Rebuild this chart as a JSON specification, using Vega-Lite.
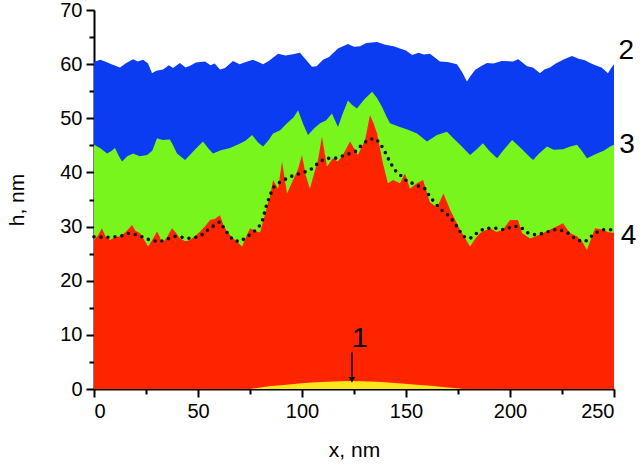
{
  "$schema": "https://vega.github.io/schema/vega-lite/v6.json",
  "width": 520,
  "height": 379,
  "autosize": "none",
  "padding": {"left": 94, "top": 10, "right": 26, "bottom": 77},
  "background": "white",
  "config": {
    "view": {"stroke": null},
    "font": "Liberation Sans",
    "axis": {"grid": false, "domainColor": "black", "domainWidth": 2, "tickColor": "black", "tickWidth": 2, "labelColor": "black", "titleColor": "black", "labelFont": "Liberation Sans", "titleFont": "Liberation Sans", "labelFontSize": 20, "titleFontSize": 21, "titleFontWeight": "normal"}
  },
  "datasets": {
    "blue": [
      {"x": 0, "h": 60.4}, {"x": 0.5, "h": 60.5}, {"x": 3, "h": 60.8}, {"x": 5.3, "h": 60.5}, {"x": 9, "h": 59.9}, {"x": 12.5, "h": 59.4}, {"x": 15.5, "h": 60.2}, {"x": 18.8, "h": 60.9}, {"x": 21, "h": 60.5}, {"x": 23.6, "h": 60.8}, {"x": 26, "h": 60.1}, {"x": 27.9, "h": 58.3}, {"x": 30, "h": 58.8}, {"x": 33.2, "h": 59.0}, {"x": 36, "h": 59.8}, {"x": 38, "h": 59.3}, {"x": 41.3, "h": 60.2}, {"x": 44, "h": 59.4}, {"x": 46.2, "h": 59.7}, {"x": 49, "h": 60.3}, {"x": 53.4, "h": 60.5}, {"x": 56, "h": 59.8}, {"x": 58, "h": 60.1}, {"x": 60.6, "h": 59.0}, {"x": 63, "h": 59.3}, {"x": 66.8, "h": 60.6}, {"x": 70, "h": 60.0}, {"x": 73, "h": 60.4}, {"x": 76.4, "h": 60.8}, {"x": 79, "h": 60.4}, {"x": 81.3, "h": 60.0}, {"x": 84, "h": 60.6}, {"x": 88.5, "h": 61.9}, {"x": 92, "h": 61.6}, {"x": 95, "h": 61.8}, {"x": 99.0, "h": 62.1}, {"x": 101.5, "h": 61.0}, {"x": 104.8, "h": 59.5}, {"x": 107, "h": 59.6}, {"x": 110.1, "h": 60.8}, {"x": 113, "h": 61.3}, {"x": 117.3, "h": 62.9}, {"x": 122.1, "h": 63.7}, {"x": 125, "h": 63.2}, {"x": 127.9, "h": 63.3}, {"x": 131, "h": 63.9}, {"x": 136.1, "h": 64.1}, {"x": 140, "h": 63.6}, {"x": 144, "h": 63.3}, {"x": 147.1, "h": 62.9}, {"x": 150, "h": 62.5}, {"x": 152.9, "h": 61.7}, {"x": 156, "h": 62.1}, {"x": 158.5, "h": 61.8}, {"x": 161.5, "h": 61.9}, {"x": 164, "h": 61.2}, {"x": 166.3, "h": 60.5}, {"x": 170, "h": 60.4}, {"x": 174.5, "h": 60.0}, {"x": 177, "h": 58.5}, {"x": 179.3, "h": 56.8}, {"x": 181, "h": 57.8}, {"x": 183.2, "h": 58.9}, {"x": 186, "h": 59.6}, {"x": 188.9, "h": 60.2}, {"x": 192, "h": 60.1}, {"x": 196, "h": 60.6}, {"x": 201.4, "h": 60.5}, {"x": 204, "h": 60.9}, {"x": 208.2, "h": 59.6}, {"x": 211, "h": 59.4}, {"x": 214.4, "h": 58.3}, {"x": 216.5, "h": 59.0}, {"x": 219.2, "h": 59.4}, {"x": 222, "h": 60.1}, {"x": 226, "h": 60.9}, {"x": 229.8, "h": 61.5}, {"x": 233, "h": 61.0}, {"x": 236, "h": 60.7}, {"x": 238.5, "h": 60.2}, {"x": 241, "h": 59.8}, {"x": 244, "h": 59.4}, {"x": 247.1, "h": 58.3}, {"x": 248.5, "h": 59.2}, {"x": 250, "h": 60.0}
    ],
    "green": [
      {"x": 0, "h": 45.1}, {"x": 2.9, "h": 44.5}, {"x": 6.3, "h": 43.5}, {"x": 8.2, "h": 43.9}, {"x": 10.1, "h": 44.5}, {"x": 12, "h": 43.0}, {"x": 13.5, "h": 42.0}, {"x": 16, "h": 43.0}, {"x": 18.8, "h": 43.5}, {"x": 22, "h": 43.0}, {"x": 25.5, "h": 43.2}, {"x": 28, "h": 44.0}, {"x": 30.3, "h": 46.3}, {"x": 33, "h": 46.0}, {"x": 36.5, "h": 46.1}, {"x": 38, "h": 45.0}, {"x": 39.9, "h": 43.5}, {"x": 43.8, "h": 42.3}, {"x": 47, "h": 43.6}, {"x": 50, "h": 44.8}, {"x": 52.4, "h": 45.7}, {"x": 55, "h": 44.4}, {"x": 57.2, "h": 43.5}, {"x": 61, "h": 44.1}, {"x": 65.4, "h": 44.5}, {"x": 70, "h": 45.3}, {"x": 73, "h": 45.9}, {"x": 76.0, "h": 46.9}, {"x": 79, "h": 45.5}, {"x": 81.3, "h": 44.8}, {"x": 84, "h": 46.0}, {"x": 86.1, "h": 47.2}, {"x": 89.5, "h": 47.8}, {"x": 92.8, "h": 49.1}, {"x": 96, "h": 50.2}, {"x": 98.1, "h": 51.5}, {"x": 100.5, "h": 49.0}, {"x": 102.9, "h": 46.9}, {"x": 106, "h": 48.2}, {"x": 108.7, "h": 49.1}, {"x": 111.5, "h": 49.6}, {"x": 114.4, "h": 50.9}, {"x": 117.3, "h": 48.4}, {"x": 119.5, "h": 50.8}, {"x": 122.1, "h": 53.3}, {"x": 124, "h": 52.5}, {"x": 126.4, "h": 51.8}, {"x": 130, "h": 53.5}, {"x": 133.7, "h": 54.9}, {"x": 136, "h": 53.8}, {"x": 138.5, "h": 52.1}, {"x": 140.5, "h": 50.4}, {"x": 142.3, "h": 49.1}, {"x": 147.1, "h": 48.4}, {"x": 151, "h": 47.9}, {"x": 155.3, "h": 47.2}, {"x": 160.1, "h": 45.7}, {"x": 164.9, "h": 46.9}, {"x": 169.7, "h": 47.5}, {"x": 173, "h": 46.2}, {"x": 176.0, "h": 45.1}, {"x": 180.8, "h": 43.2}, {"x": 184, "h": 44.3}, {"x": 187.0, "h": 45.4}, {"x": 190, "h": 44.0}, {"x": 193.8, "h": 42.6}, {"x": 197, "h": 44.2}, {"x": 201.0, "h": 46.0}, {"x": 205.8, "h": 44.3}, {"x": 208.5, "h": 43.2}, {"x": 211.1, "h": 42.3}, {"x": 214, "h": 43.5}, {"x": 217.8, "h": 44.8}, {"x": 221, "h": 44.2}, {"x": 225.5, "h": 44.3}, {"x": 229, "h": 44.8}, {"x": 232.2, "h": 45.1}, {"x": 234.5, "h": 44.0}, {"x": 237.0, "h": 42.6}, {"x": 241.8, "h": 43.5}, {"x": 245, "h": 44.0}, {"x": 248.1, "h": 44.8}, {"x": 250, "h": 45.1}
    ],
    "red": [
      {"x": 0, "h": 27.5}, {"x": 2, "h": 28.4}, {"x": 3.8, "h": 29.7}, {"x": 5.5, "h": 28.2}, {"x": 7.7, "h": 27.5}, {"x": 10, "h": 28.0}, {"x": 12.5, "h": 28.2}, {"x": 15, "h": 28.9}, {"x": 18.3, "h": 30.3}, {"x": 20, "h": 29.2}, {"x": 22.1, "h": 28.8}, {"x": 24, "h": 27.6}, {"x": 26.0, "h": 26.3}, {"x": 28, "h": 27.5}, {"x": 30.3, "h": 29.1}, {"x": 31.5, "h": 28.2}, {"x": 32.7, "h": 26.9}, {"x": 35, "h": 28.0}, {"x": 37.5, "h": 29.7}, {"x": 39.5, "h": 28.8}, {"x": 41.3, "h": 27.8}, {"x": 44, "h": 27.3}, {"x": 46.2, "h": 27.5}, {"x": 48.5, "h": 28.2}, {"x": 51.0, "h": 29.1}, {"x": 53.5, "h": 30.1}, {"x": 55.8, "h": 31.2}, {"x": 58, "h": 31.4}, {"x": 60.6, "h": 32.1}, {"x": 62, "h": 30.5}, {"x": 63.9, "h": 29.1}, {"x": 66.5, "h": 28.0}, {"x": 68.8, "h": 27.2}, {"x": 71.2, "h": 26.3}, {"x": 73, "h": 28.0}, {"x": 75.0, "h": 29.7}, {"x": 77.5, "h": 29.2}, {"x": 79.8, "h": 28.9}, {"x": 81.5, "h": 31.2}, {"x": 83.2, "h": 33.7}, {"x": 84.6, "h": 35.5}, {"x": 86.1, "h": 38.6}, {"x": 88.5, "h": 37.0}, {"x": 90.4, "h": 42.0}, {"x": 92.8, "h": 36.1}, {"x": 95.7, "h": 38.6}, {"x": 98, "h": 40.5}, {"x": 100.0, "h": 43.2}, {"x": 101.8, "h": 39.5}, {"x": 103.8, "h": 37.0}, {"x": 105.8, "h": 39.8}, {"x": 107.7, "h": 42.3}, {"x": 109.6, "h": 46.6}, {"x": 112.0, "h": 41.1}, {"x": 114.9, "h": 42.6}, {"x": 117, "h": 42.0}, {"x": 119.2, "h": 42.9}, {"x": 123.1, "h": 45.7}, {"x": 126.9, "h": 43.2}, {"x": 130.3, "h": 46.0}, {"x": 132.7, "h": 50.6}, {"x": 134.5, "h": 49.0}, {"x": 136.1, "h": 47.2}, {"x": 138.9, "h": 41.7}, {"x": 141.3, "h": 38.0}, {"x": 143.8, "h": 38.6}, {"x": 147.1, "h": 38.0}, {"x": 149.5, "h": 39.8}, {"x": 151.9, "h": 37.0}, {"x": 155.3, "h": 38.0}, {"x": 158.2, "h": 38.6}, {"x": 161.5, "h": 34.5}, {"x": 164.9, "h": 33.5}, {"x": 168, "h": 36.1}, {"x": 171.2, "h": 33.1}, {"x": 176.0, "h": 29.4}, {"x": 178.5, "h": 27.8}, {"x": 180.8, "h": 26.3}, {"x": 183, "h": 27.6}, {"x": 185.6, "h": 28.8}, {"x": 190.4, "h": 29.7}, {"x": 193.5, "h": 29.0}, {"x": 196.6, "h": 29.4}, {"x": 200.0, "h": 31.2}, {"x": 203.8, "h": 31.2}, {"x": 205.8, "h": 28.8}, {"x": 209.6, "h": 27.8}, {"x": 212.5, "h": 28.2}, {"x": 215.9, "h": 28.8}, {"x": 220.7, "h": 29.7}, {"x": 225.5, "h": 30.6}, {"x": 228.8, "h": 28.8}, {"x": 232.2, "h": 28.2}, {"x": 235, "h": 27.0}, {"x": 237.0, "h": 25.7}, {"x": 240.9, "h": 29.7}, {"x": 244.7, "h": 29.4}, {"x": 247, "h": 29.0}, {"x": 250, "h": 28.8}
    ],
    "smooth": [
      {"x": 0, "h": 28.1}, {"x": 6, "h": 28.0}, {"x": 12.5, "h": 28.2}, {"x": 17.3, "h": 28.8}, {"x": 22, "h": 28.3}, {"x": 26.9, "h": 27.5}, {"x": 31.7, "h": 27.2}, {"x": 38.9, "h": 28.2}, {"x": 46.2, "h": 27.8}, {"x": 51.0, "h": 28.2}, {"x": 55.8, "h": 29.7}, {"x": 60.6, "h": 30.9}, {"x": 63.0, "h": 29.4}, {"x": 66.8, "h": 27.5}, {"x": 70.2, "h": 27.2}, {"x": 75.0, "h": 28.5}, {"x": 78.8, "h": 29.7}, {"x": 80.8, "h": 30.9}, {"x": 83.2, "h": 34.3}, {"x": 86.1, "h": 37.2}, {"x": 89.4, "h": 38.2}, {"x": 94.2, "h": 39.2}, {"x": 99.0, "h": 39.8}, {"x": 103.8, "h": 40.4}, {"x": 107.7, "h": 41.7}, {"x": 111.1, "h": 42.6}, {"x": 115.9, "h": 42.6}, {"x": 120.7, "h": 43.2}, {"x": 125.5, "h": 43.8}, {"x": 128.8, "h": 45.1}, {"x": 131.7, "h": 46.0}, {"x": 135.1, "h": 46.3}, {"x": 137.5, "h": 45.4}, {"x": 139.9, "h": 43.8}, {"x": 142.3, "h": 41.9}, {"x": 144.7, "h": 40.4}, {"x": 148.1, "h": 39.2}, {"x": 151.0, "h": 38.2}, {"x": 154.3, "h": 37.9}, {"x": 156.7, "h": 37.3}, {"x": 159.1, "h": 37.0}, {"x": 161.5, "h": 35.5}, {"x": 166.3, "h": 33.3}, {"x": 171.2, "h": 31.8}, {"x": 174.5, "h": 30.0}, {"x": 177.4, "h": 28.2}, {"x": 180.8, "h": 27.8}, {"x": 184.1, "h": 28.8}, {"x": 188.0, "h": 29.7}, {"x": 192.8, "h": 29.7}, {"x": 197.6, "h": 29.4}, {"x": 201.0, "h": 30.0}, {"x": 204.8, "h": 30.0}, {"x": 208.7, "h": 28.8}, {"x": 212.0, "h": 28.5}, {"x": 216.8, "h": 28.8}, {"x": 220.7, "h": 29.4}, {"x": 224.0, "h": 29.4}, {"x": 227.9, "h": 28.8}, {"x": 232.2, "h": 27.5}, {"x": 236.1, "h": 27.2}, {"x": 240.9, "h": 28.8}, {"x": 244.7, "h": 29.4}, {"x": 250, "h": 29.4}
    ],
    "yellow": [
      {"x": 75, "h": 0}, {"x": 80, "h": 0.3}, {"x": 85, "h": 0.55}, {"x": 90, "h": 0.7}, {"x": 95, "h": 0.9}, {"x": 100, "h": 1.05}, {"x": 105, "h": 1.2}, {"x": 110, "h": 1.3}, {"x": 115, "h": 1.4}, {"x": 123, "h": 1.5}, {"x": 128, "h": 1.45}, {"x": 133, "h": 1.4}, {"x": 138, "h": 1.3}, {"x": 143, "h": 1.15}, {"x": 148, "h": 1.0}, {"x": 155, "h": 0.8}, {"x": 162, "h": 0.6}, {"x": 170, "h": 0.3}, {"x": 176, "h": 0.1}, {"x": 177, "h": 0}
    ],
    "labels": [
      {"x": 252.2, "h": 62.4, "t": "2"},
      {"x": 252.5, "h": 45.0, "t": "3"},
      {"x": 253.3, "h": 28.3, "t": "4"},
      {"x": 124, "h": 9.2, "t": "1"}
    ],
    "arrow": [{"x": 124, "h": 6.8, "h2": 2.0}],
    "head": [{"x": 124, "h": 1.7}]
  },
  "resolve": {"axis": {"x": "independent", "y": "independent"}},
  "layer": [
    {
      "data": {"name": "blue"},
      "mark": {"type": "area", "color": "#0C3CF2", "clip": true},
      "encoding": {
        "x": {"field": "x", "type": "quantitative", "scale": {"domain": [0, 250], "nice": false}, "axis": {"values": [0, 50, 100, 150, 200, 250], "title": "x, nm", "tickSize": 8, "labelPadding": 4, "titlePadding": 18, "orient": "bottom"}},
        "y": {"field": "h", "type": "quantitative", "scale": {"domain": [0, 70], "nice": false}, "axis": {"values": [0, 10, 20, 30, 40, 50, 60, 70], "title": "h, nm", "tickSize": 8, "labelPadding": 4, "titlePadding": 32, "orient": "left"}}
      }
    },
    {
      "data": {"name": "green"},
      "mark": {"type": "area", "color": "#78F51C", "clip": true},
      "encoding": {
        "x": {"field": "x", "type": "quantitative", "axis": {"values": [25, 75, 125, 175, 225], "labels": false, "title": null, "domain": false, "tickSize": 5, "orient": "bottom"}},
        "y": {"field": "h", "type": "quantitative", "axis": {"values": [5, 15, 25, 35, 45, 55, 65], "labels": false, "title": null, "domain": false, "tickSize": 5, "orient": "left"}}
      }
    },
    {
      "data": {"name": "red"},
      "mark": {"type": "area", "color": "#FF2400", "clip": true},
      "encoding": {
        "x": {"field": "x", "type": "quantitative", "axis": null},
        "y": {"field": "h", "type": "quantitative", "axis": null}
      }
    },
    {
      "data": {"name": "yellow"},
      "mark": {"type": "area", "color": "#FFE51C", "clip": true},
      "encoding": {
        "x": {"field": "x", "type": "quantitative", "axis": null},
        "y": {"field": "h", "type": "quantitative", "axis": null}
      }
    },
    {
      "data": {"name": "smooth"},
      "mark": {"type": "line", "color": "#111111", "strokeWidth": 3.6, "strokeDash": [0, 7], "strokeCap": "round"},
      "encoding": {
        "x": {"field": "x", "type": "quantitative", "axis": null},
        "y": {"field": "h", "type": "quantitative", "axis": null}
      }
    },
    {
      "data": {"name": "arrow"},
      "mark": {"type": "rule", "color": "black", "strokeWidth": 1.5},
      "encoding": {
        "x": {"field": "x", "type": "quantitative", "axis": null},
        "y": {"field": "h", "type": "quantitative", "axis": null},
        "y2": {"field": "h2"}
      }
    },
    {
      "data": {"name": "head"},
      "mark": {"type": "point", "shape": "triangle-down", "filled": true, "color": "black", "size": 45, "opacity": 1},
      "encoding": {
        "x": {"field": "x", "type": "quantitative", "axis": null},
        "y": {"field": "h", "type": "quantitative", "axis": null}
      }
    },
    {
      "data": {"name": "labels"},
      "mark": {"type": "text", "fontSize": 28, "align": "left", "baseline": "middle", "color": "black", "font": "Liberation Sans"},
      "encoding": {
        "x": {"field": "x", "type": "quantitative", "axis": null},
        "y": {"field": "h", "type": "quantitative", "axis": null},
        "text": {"field": "t"}
      }
    }
  ]
}
